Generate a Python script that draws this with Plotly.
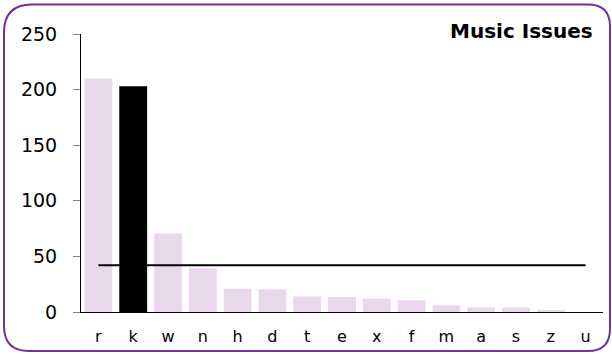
import plotly.graph_objects as go

categories = ["r", "k", "w", "n", "h", "d", "t", "e", "x", "f", "m", "a", "s", "z", "u"]
values = [210, 203, 70.5, 39.3, 21, 20.4, 14, 13.5, 12, 10.5, 6, 4, 4, 1.5, 0]
highlight = "k"
y_ticks = [0, 50, 100, 150, 200, 250]
title_text = "Music Issues"

mean_value = sum(values) / len(values)

W, H = 612, 354
ML, MR, MT, MB = 81, 9, 34, 42
PW, PH = W - ML - MR, H - MT - MB

def px(x):
    return (x - ML) / PW

def py(y):
    return (H - MB - y) / PH

def pt(x, y):
    return f"{px(x):.5f},{py(y):.5f}"

# rounded border in pixel space
L, T, R, B = 4, 4.5, 610, 351
rtl, rtr, rbr, rbl = 28, 22, 22, 25
path = (
    f"M {pt(L + rtl, T)} L {pt(R - rtr, T)} Q {pt(R, T)} {pt(R, T + rtr)} "
    f"L {pt(R, B - rbr)} Q {pt(R, B)} {pt(R - rbr, B)} "
    f"L {pt(L + rbl, B)} Q {pt(L, B)} {pt(L, B - rbl)} "
    f"L {pt(L, T + rtl)} Q {pt(L, T)} {pt(L + rtl, T)} Z"
)

colors = ["#000000" if c == highlight else "#E9D8EB" for c in categories]

fig = go.Figure()
fig.add_trace(go.Bar(x=categories, y=values, marker=dict(color=colors, line=dict(width=0)),
                     showlegend=False, hoverinfo="x+y"))
fig.add_trace(go.Scatter(x=categories, y=[mean_value] * len(categories), mode="lines",
                         line=dict(color="#000000", width=2), showlegend=False))

fig.update_layout(
    width=W, height=H,
    margin=dict(l=ML, r=MR, t=MT, b=MB, pad=0),
    paper_bgcolor="white", plot_bgcolor="white",
    bargap=0.2,
    font=dict(family="DejaVu Sans", color="#000000"),
    xaxis=dict(showgrid=False, showline=True, linecolor="#000000", linewidth=1,
               ticks="", tickfont=dict(size=16), zeroline=False,
               ticklabelstandoff=10),
    yaxis=dict(range=[0, 250], tickvals=y_ticks, showgrid=False, showline=True,
               linecolor="#000000", linewidth=1, ticks="outside", ticklen=7,
               tickcolor="#808080", tickfont=dict(size=19), zeroline=False,
               ticklabelstandoff=12),
    shapes=[dict(type="path", path=path, xref="paper", yref="paper",
                 line=dict(color="#7030A0", width=2), fillcolor="rgba(0,0,0,0)", layer="above")],
    annotations=[dict(text=f"<b>{title_text}</b>", xref="paper", yref="paper",
                      x=px(595), y=py(31), xanchor="right", yanchor="middle",
                      showarrow=False, font=dict(size=20, family="DejaVu Sans"))],
)

fig.write_html("out.html", config={"displayModeBar": False},
               post_script="document.body.style.margin='0';document.body.style.overflow='hidden';")
